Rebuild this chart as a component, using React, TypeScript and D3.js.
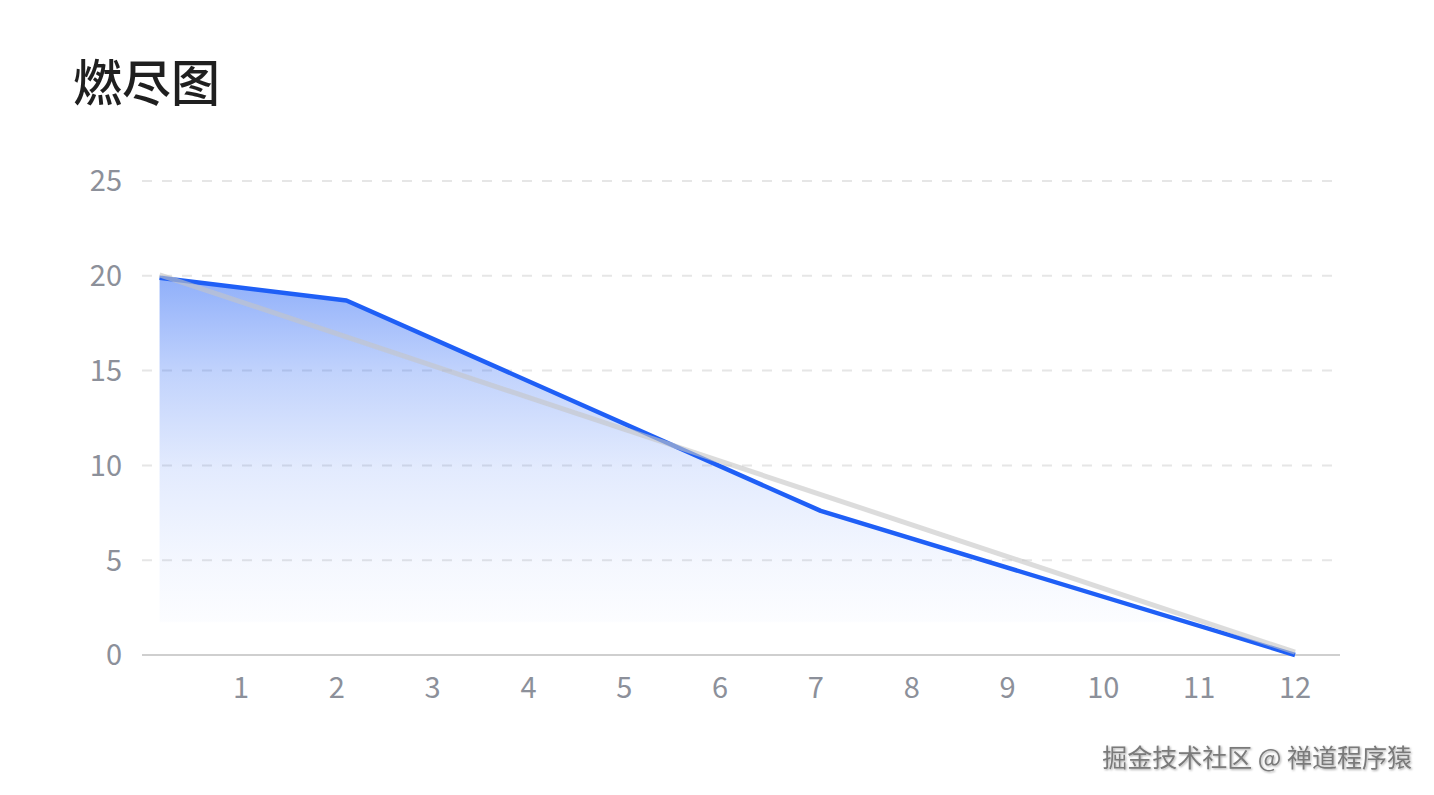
import React from "react";
import * as d3 from "d3";

const title = "燃尽图";
const watermark = "掘金技术社区 @ 禅道程序猿";
const yTicks = [0, 5, 10, 15, 20, 25];
const xTicks = [1, 2, 3, 4, 5, 6, 7, 8, 9, 10, 11, 12];
const actualDays = [0.15, 2.1, 7.05, 12];
const actualRemaining = [19.9, 18.7, 7.6, 0];
const idealDays = [0.15, 12];
const idealRemaining = [20.05, 0.15];

const W = 1434;
const H = 795;

export default function App() {
  const x = d3.scaleLinear().domain([0, 12]).range([145.2, 1295]);
  const y = d3.scaleLinear().domain([0, 25]).range([655, 181]);

  const actual = actualDays.map((d, i) => [d, actualRemaining[i]] as [number, number]);
  const ideal = idealDays.map((d, i) => [d, idealRemaining[i]] as [number, number]);

  const line = d3
    .line<[number, number]>()
    .x((d) => x(d[0]))
    .y((d) => y(d[1]));
  const area = d3
    .area<[number, number]>()
    .x((d) => x(d[0]))
    .y0(y(0))
    .y1((d) => y(d[1]));

  const font = "'Noto Sans CJK SC', 'Noto Sans', sans-serif";

  return (
    <svg
      width={W}
      height={H}
      style={{ position: "absolute", left: 0, top: 0, background: "#fff" }}
    >
      <defs>
        <linearGradient id="fillGrad" x1="0" y1="0" x2="0" y2="1">
          <stop offset="0" stopColor="#2160f5" stopOpacity={0.5} />
          <stop offset="0.25" stopColor="#2160f5" stopOpacity={0.28} />
          <stop offset="0.5" stopColor="#2160f5" stopOpacity={0.13} />
          <stop offset="0.75" stopColor="#2160f5" stopOpacity={0.05} />
          <stop offset="0.91" stopColor="#2160f5" stopOpacity={0.015} />
          <stop offset="0.915" stopColor="#2160f5" stopOpacity={0} />
        </linearGradient>
        <filter id="shadow" x="-5%" y="-20%" width="110%" height="150%">
          <feDropShadow dx="1" dy="1" stdDeviation="0.8" floodColor="#000" floodOpacity="0.35" />
        </filter>
      </defs>

      <text
        x={73}
        y={101}
        fontSize={49}
        fill="#1f1f1f"
        fontFamily="'Noto Sans CJK SC', sans-serif"
        fontWeight={500}
      >
        {title}
      </text>

      {yTicks.map((t) => (
        <g key={"y" + t}>
          {t > 0 && (
            <line
              x1={142}
              x2={1340}
              y1={y(t)}
              y2={y(t)}
              stroke="#e6e6e6"
              strokeWidth={2}
              strokeDasharray="10 10"
            />
          )}
          <text
            x={122}
            y={y(t)}
            dy="0.36em"
            textAnchor="end"
            fontSize={29}
            fill="#8c909a"
            fontFamily={font}
          >
            {t}
          </text>
        </g>
      ))}

      <path d={area(actual) || ""} fill="url(#fillGrad)" />

      <line x1={142} x2={1340} y1={y(0)} y2={y(0)} stroke="#cfcfcf" strokeWidth={2} />

      <path
        d={line(actual) || ""}
        fill="none"
        stroke="#1f5ff6"
        strokeWidth={4.5}
        strokeLinejoin="round"
      />
      <path
        d={line(ideal) || ""}
        fill="none"
        stroke="#c4c4c4"
        strokeOpacity={0.6}
        strokeWidth={5}
      />

      {xTicks.map((t) => (
        <text
          key={"x" + t}
          x={x(t)}
          y={688}
          dy="0.36em"
          textAnchor="middle"
          fontSize={29}
          fill="#8c909a"
          fontFamily={font}
        >
          {t}
        </text>
      ))}

      <text
        x={1412}
        y={767}
        textAnchor="end"
        fontSize={25}
        fill="#7a7a7a"
        fontFamily="'Noto Sans CJK SC', sans-serif"
        filter="url(#shadow)"
      >
        {watermark}
      </text>
    </svg>
  );
}
